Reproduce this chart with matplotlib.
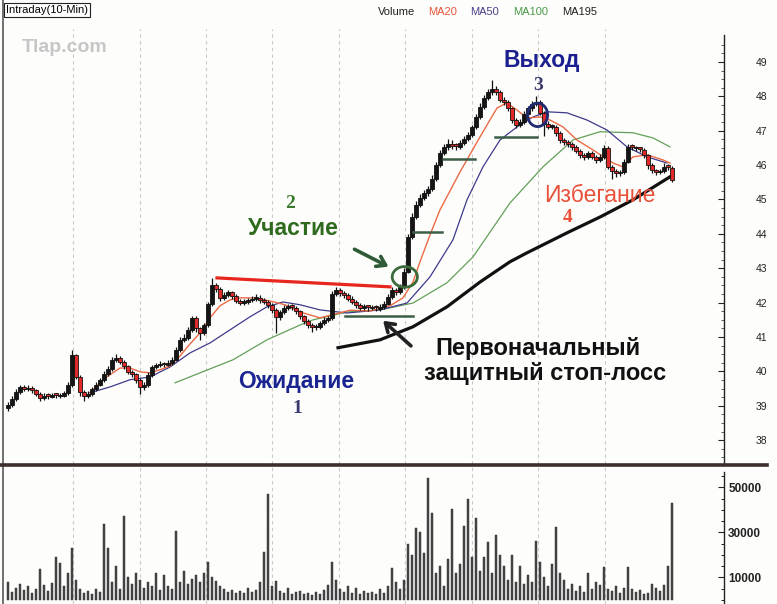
import matplotlib
matplotlib.use("Agg")
import matplotlib.pyplot as plt
import numpy as np
from matplotlib.patches import Ellipse
from matplotlib.lines import Line2D
from matplotlib.ticker import FixedLocator, NullLocator

# ---- data (bar index = 10-min bar) ----
first_open = 38.95
closes = [
    39.03, 39.20, 39.40, 39.55, 39.48, 39.52, 39.45, 39.35, 39.23, 39.30,
    39.27, 39.32, 39.28, 39.30, 39.36, 39.60, 40.48, 39.85, 39.40, 39.28,
    39.35, 39.48, 39.62, 39.75, 39.92, 40.08, 40.34, 40.40, 40.28, 40.15,
    39.99, 39.92, 39.75, 39.55, 39.60, 39.90, 40.13, 40.18, 40.22, 40.20,
    40.25, 40.34, 40.62, 40.92, 40.98, 41.20, 41.55, 41.25, 41.12, 41.35,
    41.95, 42.50, 42.40, 42.14, 42.22, 42.30, 42.20, 42.05, 42.00, 42.02,
    42.08, 42.12, 42.15, 42.08, 42.03, 41.92, 41.80, 41.58, 41.73, 41.85,
    41.88, 41.85, 41.75, 41.60, 41.48, 41.35, 41.28, 41.30, 41.40, 41.50,
    41.55, 42.25, 42.37, 42.28, 42.22, 42.12, 42.02, 41.92, 41.85, 41.88,
    41.84, 41.86, 41.83, 41.88, 41.97, 42.17, 42.37, 42.30, 42.45, 42.90,
    43.90, 44.50, 44.85, 45.05, 45.18, 45.30, 45.60, 46.00, 46.35, 46.52,
    46.62, 46.56, 46.53, 46.64, 46.76, 46.88, 47.10, 47.40, 47.70, 47.95,
    48.12, 48.22, 48.12, 47.90, 47.82, 47.65, 47.32, 47.18, 47.26, 47.50,
    47.65, 47.78, 47.84, 47.52, 47.20, 47.12, 47.12, 46.92, 46.73, 46.66,
    46.60, 46.52, 46.42, 46.30, 46.24, 46.35, 46.25, 46.15, 46.24, 46.50,
    45.95, 45.82, 45.76, 45.80, 46.10, 46.53, 46.50, 46.48, 46.44, 46.28,
    46.00, 45.85, 45.80, 45.82, 45.95, 45.92, 45.57]
highs = [
    39.10, 39.28, 39.48, 39.62, 39.60, 39.62, 39.58, 39.50, 39.40, 39.36,
    39.36, 39.38, 39.37, 39.36, 39.42, 39.68, 40.63, 40.52, 39.90, 39.45,
    39.42, 39.55, 39.70, 39.82, 40.00, 40.15, 40.42, 40.50, 40.46, 40.34,
    40.20, 40.05, 39.96, 39.80, 39.68, 39.98, 40.20, 40.26, 40.30, 40.28,
    40.32, 40.42, 40.70, 41.00, 41.08, 41.28, 41.62, 41.60, 41.30, 41.42,
    42.02, 42.72, 42.58, 42.45, 42.30, 42.38, 42.35, 42.26, 42.12, 42.10,
    42.15, 42.20, 42.24, 42.22, 42.14, 42.08, 41.98, 41.85, 41.80, 41.92,
    41.96, 41.95, 41.90, 41.80, 41.65, 41.54, 41.40, 41.38, 41.48, 41.58,
    41.62, 42.35, 42.46, 42.44, 42.34, 42.28, 42.18, 42.08, 41.98, 41.95,
    41.94, 41.93, 41.92, 41.95, 42.05, 42.25, 42.45, 42.44, 42.55, 43.00,
    44.00, 44.60, 44.95, 45.15, 45.28, 45.40, 45.70, 46.10, 46.45, 46.62,
    46.75, 46.72, 46.64, 46.72, 46.85, 46.96, 47.18, 47.50, 47.80, 48.05,
    48.22, 48.48, 48.30, 48.18, 47.98, 47.88, 47.70, 47.38, 47.34, 47.58,
    47.72, 47.86, 48.00, 47.90, 47.58, 47.28, 47.20, 47.18, 46.98, 46.80,
    46.72, 46.66, 46.58, 46.48, 46.36, 46.42, 46.42, 46.30, 46.32, 46.58,
    46.55, 46.00, 45.88, 45.86, 46.18, 46.62, 46.60, 46.56, 46.54, 46.50,
    46.32, 46.05, 45.90, 45.88, 46.05, 46.02, 45.96]
lows = [
    38.85, 38.98, 39.15, 39.35, 39.42, 39.42, 39.38, 39.28, 39.15, 39.18,
    39.20, 39.22, 39.22, 39.23, 39.25, 39.32, 39.55, 39.78, 39.30, 39.15,
    39.22, 39.30, 39.42, 39.58, 39.70, 39.88, 40.02, 40.28, 40.22, 40.08,
    39.92, 39.85, 39.66, 39.35, 39.45, 39.55, 39.85, 40.08, 40.12, 40.14,
    40.15, 40.20, 40.30, 40.58, 40.86, 40.92, 41.15, 41.15, 40.92, 41.05,
    41.30, 41.90, 42.32, 42.05, 42.08, 42.16, 42.12, 41.98, 41.92, 41.94,
    41.96, 42.02, 42.06, 42.00, 41.96, 41.84, 41.70, 41.12, 41.50, 41.68,
    41.78, 41.78, 41.68, 41.52, 41.38, 41.25, 41.15, 41.20, 41.24, 41.35,
    41.45, 41.50, 42.18, 42.20, 42.15, 42.05, 41.95, 41.85, 41.78, 41.79,
    41.77, 41.78, 41.76, 41.77, 41.82, 41.92, 42.12, 42.22, 42.25, 42.40,
    42.85, 43.85, 44.42, 44.78, 44.98, 45.10, 45.25, 45.55, 45.95, 46.28,
    46.45, 46.48, 46.45, 46.46, 46.58, 46.70, 46.82, 47.04, 47.35, 47.62,
    47.88, 48.05, 48.04, 47.82, 47.74, 47.56, 47.22, 47.08, 47.10, 47.20,
    47.44, 47.58, 47.72, 47.45, 46.85, 47.05, 47.04, 46.85, 46.65, 46.58,
    46.52, 46.44, 46.34, 46.22, 46.15, 46.18, 46.18, 46.06, 46.08, 46.18,
    45.88, 45.60, 45.65, 45.68, 45.74, 46.05, 46.44, 46.42, 46.38, 46.20,
    45.90, 45.78, 45.72, 45.75, 45.77, 45.85, 45.50]
volumes = [
    8000, 3500, 5500, 7000, 4500, 6000, 3000, 5000, 13800, 6500,
    4000, 7500, 19000, 16500, 6000, 12000, 23000, 9000, 5000, 3000,
    4000, 2500, 5000, 3500, 33700, 23000, 8000, 15000, 5000, 37300,
    10000, 7000, 12000, 9000, 5500, 8000, 6000, 12000, 4500, 11000,
    6000, 5000, 30600, 8000, 13000, 7000, 9500, 11000, 8000, 12000,
    16800, 10000, 8500, 6000, 5000, 3500, 4500, 3000, 4000, 3000,
    5500, 3500, 4500, 8000, 21300, 47000, 6000, 8500, 4000, 3000,
    5500, 2500, 3500, 4000, 2500, 3000, 2000, 3500, 2500, 4500,
    6500, 17000, 9000, 5000, 3500, 6000, 3000, 5500, 2500, 4000,
    3000, 3500, 2500, 5000, 3000, 6000, 14000, 8000, 5000, 9000,
    24800, 20000, 32000, 30000, 21000, 54000, 38500, 12000, 15000, 6000,
    18000, 40300, 12000, 16000, 33000, 44700, 19000, 36500, 13000, 19000,
    25900, 12000, 28800, 20000, 15000, 9000, 20000, 8000, 15000, 7000,
    11000, 8000, 26000, 17000, 10000, 6000, 16000, 32600, 12000, 9000,
    5000, 7000, 4000, 6000, 3500, 12000, 5000, 8000, 6500, 14500,
    5000, 4000, 6000, 3000, 5500, 14500, 5000, 3500, 4500, 2500,
    3000, 7000, 5500, 4000, 6500, 15000, 43000]

# moving averages as drawn (bar index, price)
ma20_idx = [20.5, 24.25, 28, 30.5, 33, 35.5, 38, 40.5, 43, 45.5, 48, 50.5, 53, 55.5, 58, 61.75,
            65.5, 69.25, 73, 78, 81.75, 85.5, 90.5, 95.5, 98.75, 101.25, 103, 105.5, 108, 113,
            118, 122.25, 124.75, 127.25, 129.75, 133, 135.5, 138.75, 142.25, 146.25, 151.25,
            153.75, 156.25, 159.75, 163.75, 165.5]
ma20_val = [39.38, 39.81, 40.10, 40.10, 39.99, 39.96, 40.05, 40.16, 40.45, 40.80, 41.12, 41.56,
            41.91, 42.08, 42.14, 42.14, 42.05, 41.94, 41.73, 41.56, 41.67, 41.78, 41.76, 41.91,
            42.14, 42.60, 43.19, 43.97, 44.70, 45.80, 46.82, 47.66, 47.81, 47.60, 47.37, 47.40,
            47.31, 47.11, 46.73, 46.44, 46.06, 45.95, 46.24, 46.30, 46.15, 46.06]
ma50_idx = [20.5, 25.5, 30.5, 35.5, 40.5, 45.5, 50.5, 55.5, 60.5, 64.75, 68.75, 73, 78, 84.75,
            93, 99.75, 105.5, 111.25, 114.75, 118.75, 123, 127.25, 131.25, 134.75, 139.75,
            144.75, 149.75, 154.75, 159.75, 164.75]
ma50_val = [39.38, 39.55, 39.76, 39.84, 40.13, 40.54, 40.83, 41.21, 41.59, 41.88, 42.02, 41.94,
            41.79, 41.70, 41.79, 41.99, 42.75, 43.83, 44.99, 45.95, 46.73, 47.11, 47.40, 47.55,
            47.52, 47.31, 47.02, 46.53, 46.24, 46.06]
ma100_idx = [41.75, 48, 56.25, 64.75, 73, 76.25, 84.75, 93, 101.25, 109.75, 116.25, 125.5,
             133.75, 141.25, 148, 156.25, 161.25, 165.5]
ma100_val = [39.67, 39.96, 40.34, 40.92, 41.35, 41.50, 41.73, 41.79, 41.99, 42.58, 43.33, 44.90,
             45.95, 46.73, 46.97, 46.94, 46.79, 46.53]
ma195_idx = [82.5, 93, 101.25, 109.75, 118, 125.5, 129.75, 139.75, 148, 156.25, 165.5]
ma195_val = [40.69, 40.92, 41.30, 41.88, 42.60, 43.19, 43.45, 44.03, 44.49, 44.99, 45.66]

# hand-drawn annotations
resist_idx, resist_val = [52.25, 95.5], [42.72, 42.46]
stop_lines = [(84.25, 101.25, 41.62), (101.25, 108.5, 44.06),
              (108.75, 116.75, 46.18), (121.75, 132.25, 46.82)]
session_idx = [16.25, 33, 49.5, 66, 82.75, 99.25, 116, 132.5, 149.25]

price_ticks = list(range(38, 50))
vol_ticks = [10000, 30000, 50000]

W, H = 777, 604
fig = plt.figure(figsize=(W / 100, H / 100), dpi=100)
fig.patch.set_facecolor("#fdfdfb")
sans = ["Liberation Sans", "DejaVu Sans"]
serif = ["Liberation Serif", "DejaVu Serif"]

ax = fig.add_axes([3 / W, 1 - 464 / H, 721 / W, 464 / H])
axv = fig.add_axes([3 / W, 0, 721 / W, 138 / H])
for a in (ax, axv):
    a.set_facecolor("none")
    a.set_xlim(-1.25, 179)
    a.spines["top"].set_visible(False)
    a.spines["bottom"].set_visible(False)
    a.spines["left"].set_color("#707070")
    a.spines["left"].set_linewidth(1.4)
    a.spines["right"].set_visible(False)
    a.xaxis.set_major_locator(NullLocator())
    a.xaxis.set_minor_locator(NullLocator())
    a.yaxis.tick_right()

ax.set_ylim(37.31, 50.80)
axv.set_ylim(-1780, 59550)

for s in session_idx:
    ax.plot([s, s], [37.31, 49.95], color="#c8c8c8", lw=0.8, ls=(0, (3, 3)), zorder=0)
    axv.axvline(s, color="#c8c8c8", lw=0.8, ls=(0, (3, 3)), zorder=0)

# candles
x = np.arange(len(closes))
c = np.array(closes)
o = np.concatenate([[first_open], c[:-1]])
up = c >= o
ax.vlines(x, lows, highs, color="#111111", lw=0.9, zorder=3)
body = np.where(np.abs(c - o) < 0.04, 0.04, c - o)
ax.bar(x[up], body[up], bottom=o[up], width=0.85, color="#151515",
       edgecolor="#111111", lw=0.6, zorder=4)
ax.bar(x[~up], body[~up], bottom=o[~up], width=0.85, color="#e02a2a",
       edgecolor="#111111", lw=0.6, zorder=4)

# moving averages
ax.plot(ma100_idx, ma100_val, color="#62a05a", lw=0.9, zorder=2)
ax.plot(ma50_idx, ma50_val, color="#3e3a8c", lw=0.9, zorder=2)
ax.plot(ma20_idx, ma20_val, color="#ec6a45", lw=1.0, zorder=2)
ax.plot(ma195_idx, ma195_val, color="#111111", lw=2.3, zorder=2)

# annotations
ax.plot(resist_idx, resist_val, color="#e8261f", lw=2.3, zorder=5)
for x0, x1, yv in stop_lines:
    ax.plot([x0, x1], [yv, yv], color="#3d5e46", lw=1.8, zorder=5)

ax.add_patch(Ellipse((99.2, 42.75), 6.3, 0.6, fill=False, ec="#3b6b3b", lw=2, zorder=6))
ax.add_patch(Ellipse((132.4, 47.46), 5.0, 0.68, fill=False, ec="#1f2a72", lw=2, zorder=6))

ax.annotate("", xy=(95.75, 43.01), xytext=(86, 43.59),
            arrowprops=dict(arrowstyle="->,head_length=0.6,head_width=0.4",
                            color="#2f5a36", lw=2.6))
ax.annotate("", xy=(93.25, 41.53), xytext=(101.25, 40.69),
            arrowprops=dict(arrowstyle="->,head_length=0.6,head_width=0.4",
                            color="#222222", lw=2.6))

big = dict(family=sans, fontweight="bold", ha="center", va="baseline", zorder=7)
num = dict(family=serif, fontweight="bold", ha="center", va="baseline", fontsize=14, zorder=7)
ax.text(133.5, 48.86, "Выход", color="#1b1f90", fontsize=16.5, **big)
ax.text(132.4, 48.19, "3", color="#3a3a6e", **num)
ax.text(71.4, 43.97, "Участие", color="#2e6b1e", fontsize=16.5, **big)
ax.text(70.5, 44.76, "2", color="#3b7a2a", **num)
ax.text(72.1, 39.52, "Ожидание", color="#1b2591", fontsize=16.5, **big)
ax.text(72.25, 38.80, "1", color="#3a3a70", **num)
ax.text(132.4, 40.48, "Первоначальный", color="#111111", fontsize=17, **big)
ax.text(134.25, 39.76, "защитный стоп-лосс", color="#111111", fontsize=17, **big)
ax.text(148.0, 44.93, "Избегание", color="#e8503a", fontsize=16.5,
        family=sans, ha="center", va="baseline", zorder=7)
ax.text(140, 44.35, "4", color="#e8503a", **num)

# price axis: line drawn only from the bottom up to just above 49
ax.plot([1, 1], [0, 1 - 35 / 464], transform=ax.transAxes, color="#222222",
        lw=1.0, clip_on=False, zorder=8)
ax.yaxis.set_major_locator(FixedLocator(price_ticks))
ax.yaxis.set_minor_locator(FixedLocator(np.arange(37.5, 49.6, 0.25)))
ax.tick_params(axis="y", which="major", direction="in", length=4, width=0.8,
               pad=23, labelsize=7.5, colors="#222222")
ax.tick_params(axis="y", which="minor", direction="in", length=2, width=0.6, colors="#444444")
for t in ax.get_yticklabels():
    t.set_family(sans)

# volume
axv.bar(x, volumes, width=0.6, color="#4a4a4a", edgecolor="#262626", lw=0.3)
axv.plot([1, 1], [0, 1 - 6 / 138], transform=axv.transAxes, color="#222222",
         lw=1.0, clip_on=False, zorder=8)
axv.yaxis.set_major_locator(FixedLocator(vol_ticks))
axv.yaxis.set_minor_locator(FixedLocator(np.arange(0, 56000, 5000)))
axv.tick_params(axis="y", which="major", direction="in", length=4, width=0.8,
                pad=3, labelsize=8.5, colors="#222222")
axv.tick_params(axis="y", which="minor", direction="in", length=2, width=0.6)
axv.set_yticklabels([str(v) for v in vol_ticks], family=sans, fontweight="bold")

# separator between panels
fig.add_artist(Line2D([0, 767 / W], [1 - 465 / H] * 2, color="#3b302c", lw=2.6))

# header texts
fig.text(6 / W, 1 - 10 / H, "Intraday(10-Min)", family=sans, fontsize=8, va="center",
         bbox=dict(boxstyle="square,pad=0.15", fc="white", ec="#222222", lw=0.8))
fig.text(22 / W, 1 - 47 / H, "Tlap.com", family=sans, fontsize=14, fontweight="bold",
         color="#c6c6c6", va="center")
for lx, lab, col in [(378, "Volume", "#222222"), (428, "MA20", "#e8553a"),
                     (470, "MA50", "#4a3f8a"), (513, "MA100", "#4a9a4a"),
                     (562, "MA195", "#222222")]:
    fig.text(lx / W, 1 - 12 / H, lab, family=sans, fontsize=8, color=col, va="center")

fig.savefig("out.png", dpi=100, facecolor=fig.get_facecolor())
